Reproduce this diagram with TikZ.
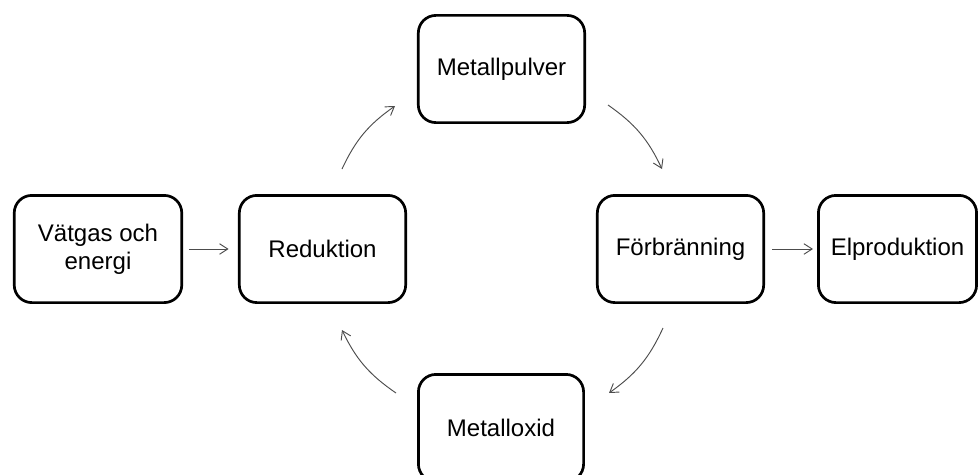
\documentclass[tikz,border=0pt]{standalone}
\usepackage{fontspec}
\setmainfont{Liberation Sans}
\usetikzlibrary{arrows.meta}

\begin{document}
\begin{tikzpicture}[x=0.03cm,y=-0.03cm,
  ruta/.style={draw, line width=2.3pt, rounded corners=15pt, minimum height=91.5pt,
    minimum width=142pt, align=center, font=\fontsize{20.5}{24}\selectfont},
  pil/.style={->, >={Straight Barb[length=7pt,width=9pt]}, draw=black!70, line width=0.8pt}]
\useasboundingbox (0,0) rectangle (979,474);
\clip (0,0) rectangle (979,474);

%rutor
\node[ruta, minimum width=143pt] (vatgas) at (98,249) {Vätgas och\\energi};
\node[ruta] (reduktion) at (322.5,249) {Reduktion};
\node[ruta] (pulver) at (501.5,69) {Metallpulver};
\node[ruta] (forbranning) at (680.5,249) {Förbränning};
\node[ruta, minimum width=135pt] (elprod) at (897.5,249) {Elproduktion};
\node[ruta, minimum width=141pt] (oxid) at (501,428) {Metalloxid};

%pilar
\draw[pil, shorten <=5pt, shorten >=8pt] (vatgas) -- (reduktion);
\draw[pil, shorten <=6pt, shorten >=3.5pt] (forbranning) -- (elprod);

%kretsloppet
\coordinate (r1) at (342,169); \coordinate (p1) at (395,106);
\coordinate (p2) at (608,105); \coordinate (f1) at (662,169);
\coordinate (f2) at (663,328); \coordinate (o1) at (609,393);
\coordinate (o2) at (396,393); \coordinate (r2) at (342,330);
\draw[pil] (r1) to[bend left=15] (p1);
\draw[pil] (p2) to[bend left=15] (f1);
\draw[pil] (f2) to[bend left=15] (o1);
\draw[pil] (o2) to[bend left=15] (r2);

\end{tikzpicture}
\end{document}
